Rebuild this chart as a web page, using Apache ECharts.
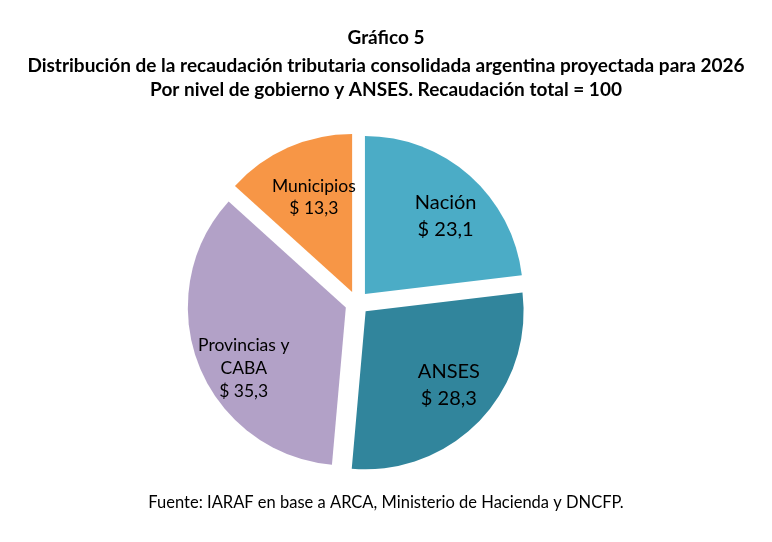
<!DOCTYPE html>
<html>
<head>
<meta charset="utf-8">
<script src="https://cdn.jsdelivr.net/npm/echarts@6/dist/echarts.min.js"></script>
<style>
    html, body { margin: 0; padding: 0; background: #fff; }
    #chart { width: 772px; height: 542px; }
</style>
</head>
<body>
<div id="chart"></div>
<script>
    // datos del gráfico
    const categorias = ['Nación', 'ANSES', 'Provincias y\nCABA', 'Municipios'];
    const valores = [23.1, 28.3, 35.3, 13.3];
    const colores = ['#4BACC6', '#31859C', '#B2A1C7', '#F79646'];
    const tamLabel = [20, 20, 17.5, 17.5];
    const altoLinea = [27, 27, 23, 22];
    const desplLabel = [[0, 13], [-4, -11], [11, 17], [11, 16]];

    const FONT = 'Lato';
    const centro = [357, 303];
    const radio = 158;

    const fmt = v => '$ ' + v.toFixed(1).replace('.', ',');

    const pieData = categorias.map((c, i) => ({
        name: c,
        value: valores[i],
        selected: true,
        itemStyle: { color: colores[i] }
    }));

    // serie fantasma para ubicar las etiquetas más afuera
    const labelData = categorias.map((c, i) => ({
        name: c,
        value: valores[i],
        selected: true,
        label: { fontSize: tamLabel[i], lineHeight: altoLinea[i] }
    }));

    const titulo = (text, top, size, weight) => ({
        text: text,
        left: 'center',
        top: top,
        textStyle: { fontFamily: FONT, fontSize: size, fontWeight: weight, color: '#000' }
    });

    const chart = echarts.init(document.getElementById('chart'));
    chart.setOption({
        animation: false,
        backgroundColor: '#fff',
        title: [
            titulo('Gráfico 5', 23, 19, 'bold'),
            titulo('Distribución de la recaudación tributaria consolidada argentina proyectada para 2026', 51, 19, 'bold'),
            titulo('Por nivel de gobierno y ANSES. Recaudación total = 100', 75, 19, 'bold'),
            titulo('Fuente: IARAF en base a ARCA, Ministerio de Hacienda y DNCFP.', 489, 16.5, 'normal')
        ],
        series: [{
            type: 'pie',
            center: centro,
            radius: [0, radio],
            startAngle: 90,
            clockwise: true,
            selectedMode: 'multiple',
            selectedOffset: 12,
            silent: true,
            label: { show: false },
            labelLine: { show: false },
            itemStyle: { borderWidth: 0 },
            data: pieData
        }, {
            type: 'pie',
            center: centro,
            radius: [radio * 0.5, radio],
            startAngle: 90,
            clockwise: true,
            selectedMode: 'multiple',
            selectedOffset: 12,
            silent: true,
            itemStyle: { color: 'rgba(0,0,0,0)' },
            labelLine: { show: false },
            label: {
                show: true,
                position: 'inside',
                fontFamily: FONT,
                color: '#000',
                formatter: p => p.name + '\n' + fmt(p.value)
            },
            labelLayout: p => ({ dx: desplLabel[p.dataIndex][0], dy: desplLabel[p.dataIndex][1] }),
            data: labelData
        }]
    });
</script>
</body>
</html>
